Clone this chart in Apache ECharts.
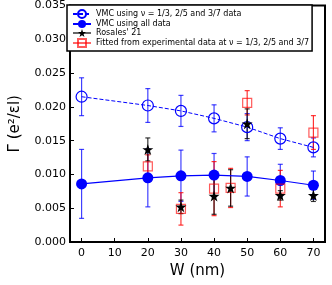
<!DOCTYPE html>
<html>
<head>
<meta charset="utf-8">
<script src="https://cdn.jsdelivr.net/npm/echarts@6/dist/echarts.min.js"></script>
<style>html,body{margin:0;padding:0;background:#fff}#c{width:332px;height:285px}</style>
</head>
<body>
<div id="c"></div>
<script>
// ---- data ----
var wNu = [0, 20, 30, 40, 50, 60, 70];
var gammaNu = [0.0215, 0.0202, 0.0194, 0.0183, 0.0170, 0.0153, 0.0140];
var errNu = [0.0028, 0.0025, 0.0023, 0.0020, 0.0020, 0.0016, 0.0014];

var wAll = [0, 20, 30, 40, 50, 60, 70];
var gammaAll = [0.0086, 0.0095, 0.0098, 0.0099, 0.0097, 0.0091, 0.0084];
var errAll = [0.0051, 0.0043, 0.0038, 0.0032, 0.0029, 0.0024, 0.0021];

var wRos = [20, 30, 40, 45, 50, 60, 70];
var gammaRos = [0.0137, 0.0052, 0.0068, 0.0080, 0.0175, 0.0069, 0.0069];
var errRos = [0.0017, 0.0010, 0.0027, 0.0027, 0.0022, 0.0007, 0.0009];

var wFit = [20, 30, 40, 45, 50, 60, 70];
var gammaFit = [0.0112, 0.0049, 0.0079, 0.0080, 0.0206, 0.0079, 0.0162];
var errFit = [0.0017, 0.0024, 0.0040, 0.0029, 0.0018, 0.0027, 0.0025];

var xTicks = [0, 10, 20, 30, 40, 50, 60, 70];

var names = [
  'VMC using \u03bd = 1/3, 2/5 and 3/7 data',
  'VMC using all data',
  "Rosales' 21",
  'Fitted from experimental data at \u03bd = 1/3, 2/5 and 3/7'
];

var STAR = 'path://M50,0 L61.8,35.1 L97.6,35.1 L68.5,56.7 L79.4,91.0 L50,70 L20.6,91.0 L31.5,56.7 L2.4,35.1 L38.2,35.1 Z';

function pts(xs, ys) { return xs.map(function (x, i) { return [x, ys[i]]; }); }
function errs(xs, ys, es) { return xs.map(function (x, i) { return [x, ys[i] - es[i], ys[i] + es[i]]; }); }

function errSeries(xs, ys, es, color, width) {
  return {
    type: 'custom',
    silent: true,
    z: 1,
    data: errs(xs, ys, es),
    encode: { x: 0, y: [1, 2] },
    renderItem: function (params, api) {
      var lo = api.coord([api.value(0), api.value(1)]);
      var hi = api.coord([api.value(0), api.value(2)]);
      var cw = 2.5;
      var st = { stroke: color, lineWidth: width };
      return {
        type: 'group',
        children: [
          { type: 'line', shape: { x1: lo[0], y1: lo[1], x2: hi[0], y2: hi[1] }, style: st },
          { type: 'line', shape: { x1: lo[0] - cw, y1: lo[1], x2: lo[0] + cw, y2: lo[1] }, style: st },
          { type: 'line', shape: { x1: hi[0] - cw, y1: hi[1], x2: hi[0] + cw, y2: hi[1] }, style: st }
        ]
      };
    }
  };
}

var chart = echarts.init(document.getElementById('c'), null, { renderer: 'canvas' });
chart.setOption({
  animation: false,
  textStyle: { fontFamily: 'DejaVu Sans' },
  grid: { left: 67, right: 7, top: 5, bottom: 43, show: true, borderColor: '#000', borderWidth: 2, backgroundColor: 'transparent' },
  legend: {
    orient: 'vertical',
    left: 67, top: 5,
    padding: [4, 3, 3, 5],
    itemGap: 1,
    itemWidth: 18, itemHeight: 10,
    borderColor: '#000', borderWidth: 1.5, borderRadius: 0,
    backgroundColor: '#fff',
    textStyle: { fontSize: 8, color: '#000', fontFamily: 'DejaVu Sans' },
    data: [
      { name: names[0] },
      { name: names[1] },
      { name: names[2], lineStyle: { opacity: 1, width: 1.2, color: '#000' } },
      { name: names[3], lineStyle: { opacity: 1, width: 1.2, color: '#ff0000' } }
    ]
  },
  xAxis: {
    type: 'value', min: -3.5, max: 73.5,
    name: 'W (nm)', nameLocation: 'middle', nameGap: 22,
    nameTextStyle: { fontSize: 15, color: '#000' },
    axisLine: { show: true, onZero: false, lineStyle: { color: '#000', width: 2 } },
    axisTick: { show: true, inside: true, length: 4, lineStyle: { color: '#000' }, customValues: xTicks },
    axisLabel: { color: '#000', fontSize: 11, margin: 6, customValues: xTicks },
    splitLine: { show: false }
  },
  yAxis: {
    type: 'value', min: 0, max: 0.035, interval: 0.005,
    name: '\u0393 (e\u00b2/\u03b5l)', nameLocation: 'middle', nameGap: 47,
    nameTextStyle: { fontSize: 15, color: '#000' },
    axisLine: { show: true, onZero: false, lineStyle: { color: '#000', width: 2 } },
    axisTick: { show: true, inside: true, length: 4, lineStyle: { color: '#000' } },
    axisLabel: { color: '#000', fontSize: 11, margin: 4, formatter: function (v) { return v.toFixed(3); } },
    splitLine: { show: false }
  },
  series: [
    errSeries(wNu, gammaNu, errNu, 'rgba(0,0,255,0.75)', 1.2),
    errSeries(wAll, gammaAll, errAll, 'rgba(0,0,255,0.75)', 1.2),
    errSeries(wFit, gammaFit, errFit, 'rgba(255,0,0,0.8)', 1.2),
    errSeries(wRos, gammaRos, errRos, 'rgba(0,0,0,0.8)', 1.2),
    {
      name: names[0], type: 'line', z: 3,
      data: pts(wNu, gammaNu),
      symbol: 'circle', symbolSize: 11,
      itemStyle: { color: 'rgba(0,0,0,0)', borderColor: '#0000ff', borderWidth: 1.2 },
      lineStyle: { color: '#0000ff', width: 1, type: [4, 2] }
    },
    {
      name: names[1], type: 'line', z: 3,
      data: pts(wAll, gammaAll),
      symbol: 'circle', symbolSize: 11,
      itemStyle: { color: '#0000ff' },
      lineStyle: { color: '#0000ff', width: 1.2 }
    },
    {
      name: names[3], type: 'line', z: 4,
      data: pts(wFit, gammaFit),
      symbol: 'rect', symbolSize: 9,
      itemStyle: { color: 'rgba(0,0,0,0)', borderColor: 'rgba(255,0,0,0.65)', borderWidth: 1.2 },
      lineStyle: { opacity: 0, width: 0 }
    },
    {
      name: names[2], type: 'line', z: 5,
      data: pts(wRos, gammaRos),
      symbol: STAR, symbolSize: 11,
      itemStyle: { color: '#000' },
      lineStyle: { opacity: 0, width: 0 }
    }
  ]
});
</script>
</body>
</html>
